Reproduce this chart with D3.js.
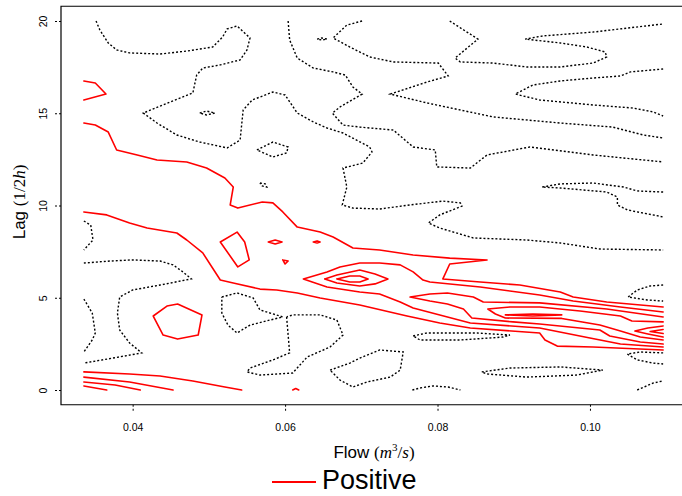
<!DOCTYPE html>
<html><head><meta charset="utf-8">
<script src="https://cdn.jsdelivr.net/npm/d3@7"></script>
<style>body{margin:0;background:#fff}svg{display:block}</style>
</head><body>
<svg id="chart" width="682" height="496"></svg>
<script>
// ---- axis ticks ----
const xTicks = [0.04, 0.06, 0.08, 0.10];
const yTicks = [0, 5, 10, 15, 20];
const legendLabels = ["Positive"];

// ---- dashed (non-positive) contour lines, points are [flow, lag] ----
const negativeContours = [
 [[0.0352,20.00],[0.0357,19.51],[0.0368,18.81],[0.0379,18.43],[0.0396,18.27],[0.0436,18.21],[0.0471,18.37],[0.0505,18.59],[0.0518,19.13],[0.0524,19.57],[0.0537,19.73],[0.0554,19.08],[0.0550,18.43],[0.0541,17.89],[0.0515,17.62],[0.0492,17.45],[0.0484,17.07],[0.0479,16.10],[0.0449,15.61],[0.0414,15.01],[0.0432,14.47],[0.0458,13.82],[0.0488,13.44],[0.0524,13.12],[0.0541,13.55],[0.0545,15.18],[0.0557,15.72],[0.0584,16.15],[0.0600,15.99],[0.0616,15.01],[0.0637,14.53],[0.0655,14.20],[0.0676,13.93],[0.0711,13.17],[0.0714,12.90],[0.0702,12.30],[0.0676,12.03],[0.0681,11.00],[0.0675,10.03],[0.0689,9.86],[0.0724,9.81],[0.0764,10.03],[0.0807,10.24],[0.0830,10.14],[0.0832,9.97],[0.0803,9.49],[0.0788,9.05],[0.0803,8.78],[0.0847,8.24],[0.0917,8.13],[0.0961,7.97],[0.1013,7.64],[0.1096,7.59]],
 [[0.0488,15.01],[0.0497,15.12],[0.0508,15.01],[0.0497,14.91],[0.0488,15.01]],
 [[0.0563,13.01],[0.0584,13.44],[0.0604,13.17],[0.0602,12.85],[0.0584,12.63],[0.0563,13.01]],
 [[0.0567,11.22],[0.0574,11.17],[0.0576,11.00],[0.0570,11.06],[0.0567,11.22]],
 [[0.0604,20.00],[0.0606,18.97],[0.0616,17.99],[0.0637,17.45],[0.0663,17.24],[0.0679,17.07],[0.0689,16.42],[0.0701,16.04],[0.0672,15.34],[0.0662,15.01],[0.0676,14.36],[0.0698,14.25],[0.0742,14.09],[0.0768,13.17],[0.0797,13.01],[0.0799,12.09],[0.0843,12.03],[0.0865,12.74],[0.0921,13.17],[0.1004,12.74],[0.1096,12.36]],
 [[0.0642,19.02],[0.0648,19.08],[0.0655,19.02],[0.0648,18.97],[0.0642,19.02]],
 [[0.0701,20.00],[0.0681,19.78],[0.0663,19.08],[0.0685,18.59],[0.0711,18.05],[0.0742,17.78],[0.0801,17.72],[0.0814,17.02],[0.0786,16.69],[0.0738,16.04],[0.0786,15.56],[0.0873,14.80],[0.0961,14.47],[0.1030,14.25],[0.1070,13.82],[0.1096,13.66]],
 [[0.0816,20.00],[0.0853,19.02],[0.0823,17.99],[0.0830,17.78],[0.0873,17.72],[0.0917,17.51],[0.0961,17.51],[0.1004,17.72],[0.1022,18.05],[0.1020,18.32],[0.0996,18.59],[0.0961,18.81],[0.0915,19.02],[0.0938,19.19],[0.1004,19.40],[0.1096,19.84]],
 [[0.1096,17.40],[0.1053,17.24],[0.1040,17.02],[0.1004,16.91],[0.0961,16.75],[0.0925,16.53],[0.0902,16.04],[0.0934,15.72],[0.1004,15.45],[0.1057,15.28],[0.1083,15.07],[0.1096,14.85]],
 [[0.1096,10.73],[0.1062,10.79],[0.1044,11.00],[0.1004,11.22],[0.0961,11.17],[0.0937,11.00],[0.0961,10.95],[0.1022,10.73],[0.1036,10.46],[0.1036,10.03],[0.1049,9.76],[0.1070,9.59],[0.1096,9.38]],
 [[0.0336,9.16],[0.0345,8.94],[0.0348,8.13],[0.0336,7.59]],
 [[0.0336,6.88],[0.0370,6.99],[0.0400,7.05],[0.0436,6.99],[0.0453,6.78],[0.0466,6.40],[0.0477,6.02],[0.0436,5.69],[0.0400,5.42],[0.0383,5.04],[0.0380,4.17],[0.0383,3.25],[0.0396,2.55],[0.0412,2.01],[0.0374,1.73],[0.0336,1.46]],
 [[0.0336,4.93],[0.0347,4.17],[0.0351,3.09],[0.0347,2.71],[0.0336,2.06]],
 [[0.0517,5.04],[0.0537,5.26],[0.0558,4.99],[0.0567,4.34],[0.0597,3.96],[0.0580,3.79],[0.0554,3.52],[0.0537,3.09],[0.0525,3.52],[0.0517,4.17],[0.0517,5.04]],
 [[0.0602,3.96],[0.0606,2.01],[0.0584,1.63],[0.0554,1.19],[0.0550,0.98],[0.0567,0.81],[0.0610,0.92],[0.0629,1.79],[0.0659,2.33],[0.0676,2.98],[0.0668,3.79],[0.0646,4.07],[0.0610,4.07],[0.0602,3.96]],
 [[0.0659,1.08],[0.0685,1.46],[0.0698,1.73],[0.0724,2.17],[0.0755,2.06],[0.0751,1.08],[0.0738,0.70],[0.0707,0.43],[0.0689,0.16],[0.0672,0.54],[0.0659,1.08]],
 [[0.0768,2.93],[0.0786,3.09],[0.0852,3.09],[0.0895,2.98],[0.0886,2.87],[0.0830,2.71],[0.0777,2.71],[0.0768,2.93]],
 [[0.0858,0.98],[0.0895,1.19],[0.0961,1.25],[0.1017,1.08],[0.0983,0.81],[0.0917,0.70],[0.0865,0.87],[0.0858,0.98]],
 [[0.0767,0.00],[0.0777,0.11],[0.0794,0.22],[0.0814,0.16],[0.0830,0.00]],
 [[0.1062,0.00],[0.1083,0.38],[0.1096,0.49]],
 [[0.1096,5.69],[0.1079,5.64],[0.1062,5.42],[0.1050,5.04],[0.1075,4.88],[0.1096,4.82]],
 [[0.1096,2.01],[0.1066,2.06],[0.1049,1.95],[0.1062,1.63],[0.1083,1.46],[0.1096,1.41]]
];

// ---- red (positive) contour lines, points are [flow, lag] ----
const positiveContours = [
 [[0.0336,16.75],[0.0351,16.64],[0.0365,16.04],[0.0336,15.72]],
 [[0.0336,14.47],[0.0351,14.36],[0.0368,13.98],[0.0379,13.01],[0.0406,12.74],[0.0432,12.47],[0.0471,12.36],[0.0497,12.03],[0.0521,11.49],[0.0532,11.00],[0.0528,10.03],[0.0538,9.86],[0.0570,10.19],[0.0584,10.14],[0.0597,9.65],[0.0616,8.83],[0.0646,8.56],[0.0663,8.29],[0.0689,7.70],[0.0724,7.59],[0.0768,7.32],[0.0816,7.15],[0.0865,7.05],[0.0816,6.83],[0.0807,6.02],[0.0856,5.85],[0.0908,5.69],[0.0961,5.31],[0.0978,5.04],[0.1022,4.77],[0.1096,4.50]],
 [[0.0336,9.65],[0.0366,9.49],[0.0396,9.05],[0.0419,8.78],[0.0458,8.51],[0.0471,8.13],[0.0492,7.43],[0.0515,5.96],[0.0532,5.80],[0.0567,5.47],[0.0589,5.42],[0.0616,5.26],[0.0646,4.99],[0.0698,4.61],[0.0760,4.01],[0.0803,3.63],[0.0843,3.36],[0.0934,3.09],[0.0941,2.71],[0.0957,2.38],[0.1004,2.33],[0.1096,2.17]],
 [[0.1096,4.23],[0.1040,4.50],[0.0978,4.82],[0.0934,5.15],[0.0856,5.58],[0.0790,5.85],[0.0781,5.96],[0.0768,6.40],[0.0751,6.78],[0.0724,6.88],[0.0698,6.88],[0.0672,6.67],[0.0655,6.40],[0.0624,6.02],[0.0655,5.58],[0.0698,5.31],[0.0724,5.20],[0.0751,4.77],[0.0768,4.44],[0.0803,4.07],[0.0843,3.63],[0.0934,3.36],[0.1000,2.82],[0.1040,2.49],[0.1096,2.33]],
 [[0.0652,6.02],[0.0668,6.23],[0.0698,6.50],[0.0718,6.29],[0.0735,6.02],[0.0718,5.75],[0.0698,5.64],[0.0668,5.80],[0.0652,6.02]],
 [[0.0668,6.02],[0.0685,6.18],[0.0698,6.18],[0.0709,6.02],[0.0698,5.85],[0.0685,5.85],[0.0668,6.02]],
 [[0.1096,3.96],[0.1022,4.39],[0.0934,4.72],[0.0860,4.77],[0.0847,5.04],[0.0813,5.26],[0.0790,5.20],[0.0764,5.04],[0.0790,4.82],[0.0813,4.66],[0.0834,4.39],[0.0845,3.90],[0.0899,3.69],[0.0934,3.58],[0.1013,3.25],[0.1026,2.93],[0.1066,2.60],[0.1096,2.49]],
 [[0.1096,3.69],[0.1055,3.74],[0.1040,4.01],[0.0987,4.28],[0.0934,4.50],[0.0895,4.50],[0.0866,4.39],[0.0876,4.12],[0.0889,3.90],[0.0963,3.88],[0.1013,3.52],[0.1040,3.20],[0.1066,2.87],[0.1096,2.71]],
 [[0.0889,4.07],[0.0925,4.12],[0.0963,4.07],[0.0925,4.01],[0.0889,4.07]],
 [[0.1096,3.47],[0.1076,3.36],[0.1059,3.20],[0.1076,3.04],[0.1096,2.87]],
 [[0.1096,3.28],[0.1079,3.17],[0.1096,3.06]],
 [[0.0515,8.02],[0.0537,8.56],[0.0547,8.02],[0.0553,7.05],[0.0538,6.67],[0.0515,8.02]],
 [[0.0578,8.02],[0.0587,8.13],[0.0596,8.02],[0.0587,7.91],[0.0578,8.02]],
 [[0.0637,8.02],[0.0642,8.08],[0.0646,8.02],[0.0642,7.97],[0.0637,8.02]],
 [[0.0597,7.05],[0.0604,6.99],[0.0600,6.83],[0.0597,7.05]],
 [[0.0427,4.01],[0.0445,4.55],[0.0459,4.66],[0.0491,4.07],[0.0486,2.98],[0.0459,2.76],[0.0440,2.98],[0.0427,4.01]],
 [[0.0336,0.98],[0.0396,0.87],[0.0436,0.76],[0.0479,0.49],[0.0521,0.16],[0.0543,0.00]],
 [[0.0336,0.70],[0.0396,0.43],[0.0453,0.00]],
 [[0.0336,0.43],[0.0377,0.27],[0.0410,0.00]],
 [[0.0336,0.22],[0.0366,0.00]],
 [[0.0610,0.00],[0.0614,0.08],[0.0618,0.00]]
];

const svg = d3.select("#chart");
const x = d3.scaleLinear().domain([0.0306, 0.1126]).range([61, 686]);
const y = d3.scaleLinear().domain([-0.8, 20.8]).range([404.76, 6.24]);
const line = d3.line().x(d => x(d[0])).y(d => y(d[1]));

const plot = svg.append("g");
plot.selectAll("path.neg").data(negativeContours).join("path")
  .attr("class","neg").attr("d", line)
  .attr("fill","none").attr("stroke","#000").attr("stroke-width",1.4)
  .attr("stroke-dasharray","2,2");
plot.selectAll("path.pos").data(positiveContours).join("path")
  .attr("class","pos").attr("d", line)
  .attr("fill","none").attr("stroke","#ff0000").attr("stroke-width",1.6)
  .attr("stroke-linejoin","round").attr("stroke-linecap","round");

// frame
svg.append("path")
  .attr("d", `M686,${y(20.8)}H${x(0.0306)}V${y(-0.8)}H686`)
  .attr("fill","none").attr("stroke","#000").attr("stroke-width",1.2);

// x axis
const xAxis = d3.axisBottom(x).tickValues(xTicks).tickFormat(d3.format(".2f")).tickSize(7).tickPadding(12);
const gx = svg.append("g").attr("transform", `translate(0,${y(-0.8)})`).call(xAxis);
gx.select(".domain").remove();
gx.selectAll(".tick line").attr("stroke","#000").attr("stroke-dasharray","2,2");
gx.selectAll(".tick text").attr("font-family","Liberation Sans, Arial, sans-serif").attr("font-size",10.5).attr("fill","#000");

// y axis
const yAxis = d3.axisLeft(y).tickValues(yTicks).tickFormat(d3.format("d")).tickSize(7);
const gy = svg.append("g").attr("transform", `translate(${x(0.0306)},0)`).call(yAxis);
gy.select(".domain").remove();
gy.selectAll(".tick line").attr("stroke","#000").attr("stroke-dasharray","2,2");
gy.selectAll(".tick text")
  .attr("x",null).attr("dy",null)
  .attr("transform","translate(-14,0) rotate(-90)")
  .attr("text-anchor","middle")
  .attr("font-family","Liberation Sans, Arial, sans-serif").attr("font-size",10.5).attr("fill","#000");

// x label
const xl = svg.append("text").attr("x",374).attr("y",458).attr("text-anchor","middle")
  .attr("font-family","Liberation Sans, Arial, sans-serif").attr("font-size",17);
xl.append("tspan").text("Flow ");
xl.append("tspan").attr("font-family","Liberation Serif, serif").text("(");
xl.append("tspan").attr("font-family","Liberation Serif, serif").attr("font-style","italic").text("m");
xl.append("tspan").attr("font-family","Liberation Serif, serif").attr("font-size",11).attr("dy",-7).text("3");
xl.append("tspan").attr("font-family","Liberation Serif, serif").attr("dy",7).text("/");
xl.append("tspan").attr("font-family","Liberation Serif, serif").attr("font-style","italic").text("s");
xl.append("tspan").attr("font-family","Liberation Serif, serif").text(")");

// y label
const yl = svg.append("text").attr("transform","translate(25,202) rotate(-90)").attr("text-anchor","middle")
  .attr("font-family","Liberation Sans, Arial, sans-serif").attr("font-size",17);
yl.append("tspan").text("Lag ");
yl.append("tspan").attr("font-family","Liberation Serif, serif").text("(1/2");
yl.append("tspan").attr("font-family","Liberation Serif, serif").attr("font-style","italic").text("h");
yl.append("tspan").attr("font-family","Liberation Serif, serif").text(")");

// legend
const lg = svg.append("g");
lg.selectAll("line").data(legendLabels).join("line")
  .attr("x1",272).attr("x2",316).attr("y1",482).attr("y2",482)
  .attr("stroke","#ff0000").attr("stroke-width",2);
lg.selectAll("text").data(legendLabels).join("text")
  .attr("x",322).attr("y",489).text(d => d)
  .attr("font-family","Liberation Sans, Arial, sans-serif").attr("font-size",27).attr("fill","#000");
</script>
</body></html>
